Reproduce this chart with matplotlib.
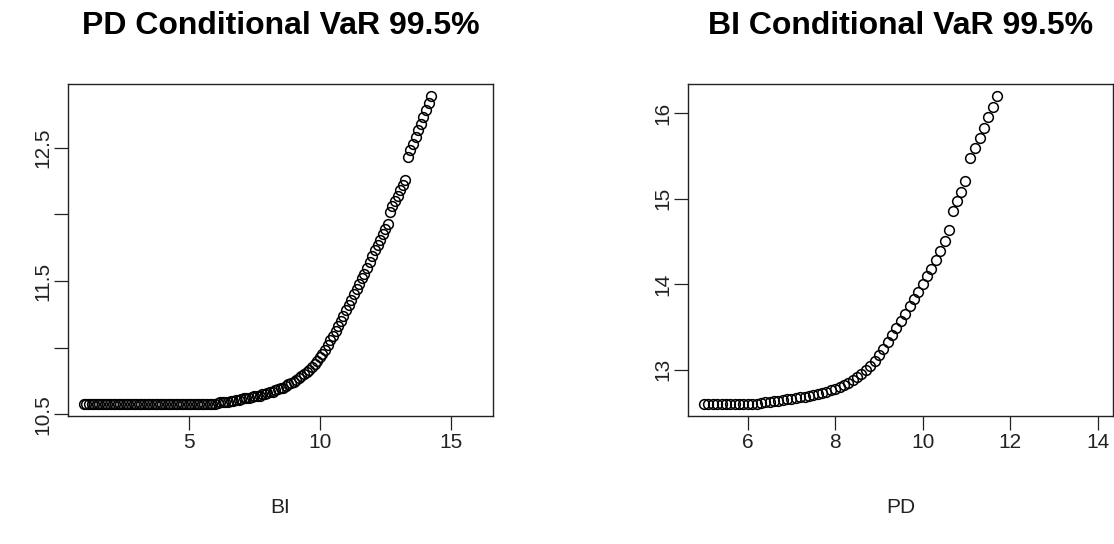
import matplotlib
matplotlib.use("Agg")
import matplotlib.pyplot as plt

plt.rcParams['font.family'] = ['Liberation Sans', 'DejaVu Sans']

# ---------------- data ----------------
bi_x = [1.0, 1.1, 1.2, 1.3, 1.4, 1.5, 1.6, 1.7, 1.8, 1.9,
        2.0, 2.1, 2.2, 2.3, 2.4, 2.5, 2.6, 2.7, 2.8, 2.9,
        3.0, 3.1, 3.2, 3.3, 3.4, 3.5, 3.6, 3.7, 3.8, 3.9,
        4.0, 4.1, 4.2, 4.3, 4.4, 4.5, 4.6, 4.7, 4.8, 4.9,
        5.0, 5.1, 5.2, 5.3, 5.4, 5.5, 5.6, 5.7, 5.8, 5.9,
        6.0, 6.1, 6.2, 6.3, 6.4, 6.5, 6.6, 6.7, 6.8, 6.9,
        7.0, 7.1, 7.2, 7.3, 7.4, 7.5, 7.6, 7.7, 7.8, 7.9,
        8.0, 8.1, 8.2, 8.3, 8.4, 8.5, 8.6, 8.7, 8.8, 8.9,
        9.0, 9.1, 9.2, 9.3, 9.4, 9.5, 9.6, 9.7, 9.8, 9.9,
        10.0, 10.1, 10.2, 10.3, 10.4, 10.5, 10.6, 10.7, 10.8, 10.9,
        11.0, 11.1, 11.2, 11.3, 11.4, 11.5, 11.6, 11.7, 11.8, 11.9,
        12.0, 12.1, 12.2, 12.3, 12.4, 12.5, 12.6,
        12.66, 12.76, 12.86, 12.96, 13.06, 13.16, 13.26,
        13.35, 13.45, 13.55, 13.65, 13.75, 13.85, 13.95, 14.05, 14.15, 14.24]
pd_cvar = [10.58, 10.58, 10.58, 10.58, 10.58, 10.58, 10.58, 10.58, 10.58, 10.58,
           10.58, 10.58, 10.58, 10.58, 10.58, 10.58, 10.58, 10.58, 10.58, 10.58,
           10.58, 10.58, 10.58, 10.58, 10.58, 10.58, 10.58, 10.58, 10.58, 10.58,
           10.58, 10.58, 10.58, 10.58, 10.58, 10.58, 10.58, 10.58, 10.58, 10.58,
           10.58, 10.58, 10.58, 10.58, 10.58, 10.58, 10.58, 10.58, 10.58, 10.58,
           10.58, 10.585, 10.59, 10.59, 10.595, 10.595, 10.60, 10.60, 10.605, 10.61,
           10.615, 10.62, 10.62, 10.625, 10.63, 10.635, 10.64, 10.64, 10.65, 10.655,
           10.66, 10.665, 10.67, 10.68, 10.69, 10.695, 10.70, 10.715, 10.725, 10.735,
           10.745, 10.76, 10.77, 10.785, 10.80, 10.815, 10.835, 10.855, 10.88, 10.90,
           10.93, 10.955, 10.985, 11.02, 11.055, 11.09, 11.125, 11.16, 11.20, 11.24,
           11.28, 11.32, 11.36, 11.40, 11.44, 11.48, 11.52, 11.555, 11.595, 11.64,
           11.685, 11.73, 11.77, 11.81, 11.85, 11.89, 11.93,
           12.02, 12.06, 12.10, 12.14, 12.18, 12.22, 12.26,
           12.43, 12.48, 12.53, 12.58, 12.63, 12.68, 12.73, 12.785, 12.835, 12.886]

pd_x = [5.0, 5.1, 5.2, 5.3, 5.4, 5.5, 5.6, 5.7, 5.8, 5.9,
        6.0, 6.1, 6.2, 6.3, 6.4, 6.5, 6.6, 6.7, 6.8, 6.9,
        7.0, 7.1, 7.2, 7.3, 7.4, 7.5, 7.6, 7.7, 7.8, 7.9,
        8.0, 8.1, 8.2, 8.3, 8.4, 8.5, 8.6, 8.7, 8.8, 8.9,
        9.0, 9.1, 9.2, 9.3, 9.4, 9.5, 9.6, 9.7, 9.8, 9.9,
        10.0, 10.1, 10.2, 10.3, 10.4, 10.5, 10.6,
        10.69, 10.78, 10.87, 10.96,
        11.09, 11.19, 11.30, 11.40, 11.50, 11.61, 11.71]
bi_cvar = [12.60, 12.60, 12.60, 12.60, 12.60, 12.60, 12.60, 12.60, 12.60, 12.60,
           12.60, 12.60, 12.60, 12.61, 12.615, 12.62, 12.63, 12.635, 12.645, 12.655,
           12.66, 12.67, 12.675, 12.68, 12.69, 12.70, 12.71, 12.725, 12.74, 12.755,
           12.775, 12.80, 12.82, 12.845, 12.875, 12.91, 12.95, 12.995, 13.045, 13.10,
           13.165, 13.24, 13.32, 13.40, 13.48, 13.57, 13.65, 13.74, 13.83, 13.91,
           14.00, 14.09, 14.18, 14.28, 14.39, 14.50, 14.63,
           14.86, 14.97, 15.08, 15.20,
           15.47, 15.59, 15.71, 15.83, 15.95, 16.07, 16.196]

left_title = "PD Conditional VaR 99.5%"
right_title = "BI Conditional VaR 99.5%"
left_xlabel = "BI"
right_xlabel = "PD"
left_xticks = [5, 10, 15]
left_yticks = [10.5, 11.0, 11.5, 12.0, 12.5]
left_yticklabels = ["10.5", "", "11.5", "", "12.5"]
right_xticks = [6, 8, 10, 12, 14]
right_yticks = [13, 14, 15, 16]
left_xrange = (1, 16)
right_xrange = (5, 14)

# ---------------- figure ----------------
W, H = 1114, 544
fig = plt.figure(figsize=(W / 100, H / 100), dpi=100)


def ext(lo, hi):
    d = (hi - lo) * 0.04
    return lo - d, hi + d


def make_axes(x0, xs, ys, xr, xticks, yticks, ylabels, title, xlabel):
    ax = fig.add_axes([x0 / W, (H - 416) / H, 425 / W, 332 / H])
    ax.plot(xs, ys, linestyle='none', marker='o', ms=7.0, mfc='none',
            mec='black', mew=1.1)
    ax.set_xlim(*ext(*xr))
    ax.set_ylim(*ext(min(ys), max(ys)))
    ax.set_xticks(xticks)
    ax.set_xticklabels([str(t) for t in xticks])
    ax.set_yticks(yticks)
    ax.set_yticklabels(ylabels, rotation=90, va='center')
    ax.tick_params(direction='out', length=10, width=0.9, pad=2.5,
                   labelsize=15, colors='#222222')
    ax.tick_params(axis='y', pad=1.5)
    for s in ax.spines.values():
        s.set_linewidth(1.0)
        s.set_color('#222222')
    cx = (x0 + 212.5) / W
    fig.text(cx, (H - 34) / H, title, ha='center', va='baseline',
             fontsize=23, fontweight='bold')
    fig.text(cx, (H - 513) / H, xlabel, ha='center', va='baseline',
             fontsize=15, color='#222222')
    return ax


make_axes(68, bi_x, pd_cvar, left_xrange, left_xticks, left_yticks,
          left_yticklabels, left_title, left_xlabel)
make_axes(688.3, pd_x, bi_cvar, right_xrange, right_xticks, right_yticks,
          [str(t) for t in right_yticks], right_title, right_xlabel)

fig.savefig("out.png", dpi=100, facecolor='white')
